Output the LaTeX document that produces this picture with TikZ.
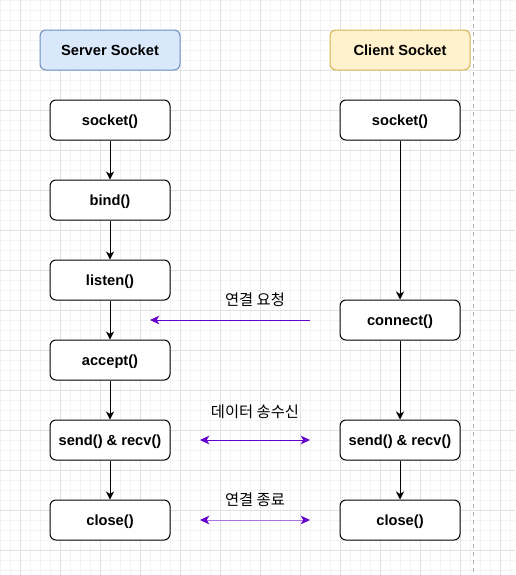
\documentclass[tikz,border=0pt]{standalone}
\usepackage{fontspec}
\setmainfont{Liberation Sans}
\newfontfamily\kofont{Noto Sans CJK KR}
\usetikzlibrary{arrows.meta}

\definecolor{gridminor}{HTML}{F3F3F3}
\definecolor{gridmajor}{HTML}{E2E2E2}
\definecolor{srvfill}{HTML}{DAE8FC}
\definecolor{srvline}{HTML}{6C8EBF}
\definecolor{clifill}{HTML}{FFF2CC}
\definecolor{cliline}{HTML}{D6B656}
\definecolor{msgline}{HTML}{6600CC}

\tikzset{
  callbox/.style = {draw, line width=0.75pt, rounded corners=4.5pt, fill=white,
                    minimum width=90pt, minimum height=30pt, inner sep=0pt,
                    text depth=0pt,
                    font=\fontsize{11}{13}\selectfont\bfseries},
  headbox/.style = {callbox, minimum width=105pt},
  msg/.style     = {draw=msgline, line width=0.75pt},
  msglabel/.style = {font=\kofont\fontsize{11.5}{13}\selectfont}
}

\begin{document}
\begin{tikzpicture}[x=0.75pt, y=-0.75pt,
  > = {Stealth[length=6pt, width=6pt, inset=1.8pt]}]
\useasboundingbox (0,0) rectangle (515,575);
\fill[white] (0,0) rectangle (515,575);
% grid
\foreach \gx in {0,10,...,510} \draw[gridminor, line width=0.75pt] (\gx,0) -- (\gx,575);
\foreach \gy in {0,10,...,570} \draw[gridminor, line width=0.75pt] (0,\gy) -- (515,\gy);
\foreach \gx in {20,60,...,500} \draw[gridmajor, line width=0.75pt] (\gx,0) -- (\gx,575);
\foreach \gy in {30,70,...,550} \draw[gridmajor, line width=0.75pt] (0,\gy) -- (515,\gy);
\draw[gray!60, dashed, line width=0.75pt] (473,0) -- (473,575);

% headers
\node[headbox, fill=srvfill, draw=srvline] (srvhead) at (110,50) {Server Socket};
\node[headbox, fill=clifill, draw=cliline] (clihead) at (400,50) {Client Socket};

% server side
\node[callbox] (srvsocket) at (110,120) {socket()};
\node[callbox] (srvbind)   at (110,200) {bind()};
\node[callbox] (srvlisten) at (110,280) {listen()};
\node[callbox] (srvaccept) at (110,360) {accept()};
\node[callbox] (srvio)     at (110,440) {send() \& recv()};
\node[callbox] (srvclose)  at (110,520) {close()};

% client side
\node[callbox] (clisocket)  at (400,120) {socket()};
\node[callbox] (cliconnect) at (400,320) {connect()};
\node[callbox] (cliio)      at (400,440) {send() \& recv()};
\node[callbox] (cliclose)   at (400,520) {close()};

\draw[->, line width=0.75pt] (srvsocket) -- (srvbind);
\draw[->, line width=0.75pt] (srvbind) -- (srvlisten);
\draw[->, line width=0.75pt] (srvlisten) -- (srvaccept);
\draw[->, line width=0.75pt] (srvaccept) -- (srvio);
\draw[->, line width=0.75pt] (srvio) -- (srvclose);
\draw[->, line width=0.75pt] (clisocket) -- (cliconnect);
\draw[->, line width=0.75pt] (cliconnect) -- (cliio);
\draw[->, line width=0.75pt] (cliio) -- (cliclose);

% messages
\coordinate (reqfrom) at (310,320);
\coordinate (reqto)   at (150,320);
\coordinate (ioleft)  at (200,440);
\coordinate (ioright) at (310,440);
\coordinate (endleft) at (200,520);
\coordinate (endright) at (310,520);
\draw[msg, -{Stealth[length=7pt, width=6.5pt, inset=2pt, msgline]}] (reqfrom) -- (reqto);
\draw[msg, {Stealth[length=7pt, width=6.5pt, inset=2pt, msgline]}-{Stealth[length=7pt, width=6.5pt, inset=2pt, msgline]}] (ioleft) -- (ioright);
\draw[msg, draw=msgline!55, {Stealth[length=7pt, width=6.5pt, inset=2pt, msgline]}-{Stealth[length=7pt, width=6.5pt, inset=2pt, msgline]}] (endleft) -- (endright);
\node[msglabel] (reqlabel) at (255,300) {연결 요청};
\node[msglabel] (iolabel)  at (255,412) {데이터 송수신};
\node[msglabel] (endlabel) at (255,500) {연결 종료};

\end{tikzpicture}
\end{document}
